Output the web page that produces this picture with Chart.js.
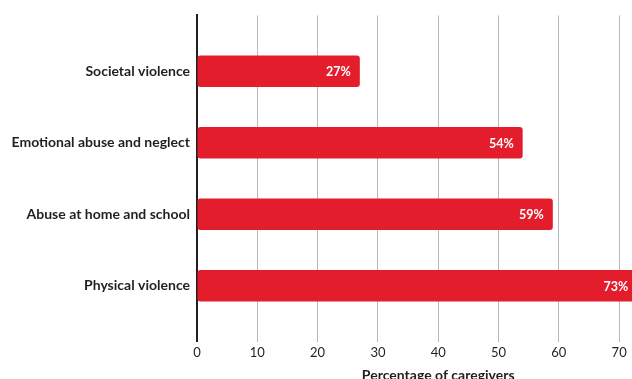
<!DOCTYPE html>
<html>
<head>
<meta charset="utf-8">
<script src="https://cdn.jsdelivr.net/npm/chart.js@4.4.1/dist/chart.umd.min.js"></script>
<style>
  html, body { margin: 0; padding: 0; background: #fff; }
  body { width: 632px; height: 379px; overflow: hidden; }
  #wrap { width: 690px; height: 386px; }
</style>
</head>
<body>
<div id="wrap"><canvas id="chart"></canvas></div>
<script>
// Forms of violence reported by caregivers
const categories = ['Societal violence', 'Emotional abuse and neglect', 'Abuse at home and school', 'Physical violence'];
const percentages = [27, 54, 59, 73];
const xAxisTitle = 'Percentage of caregivers';

const BAR_RED = '#e41d2c';
const INK = '#231f20';
const FONT = 'Lato, "Open Sans", sans-serif';

// Value labels written inside the end of each bar
const barValueLabels = {
  id: 'barValueLabels',
  afterDatasetsDraw(chart) {
    const ctx = chart.ctx;
    const meta = chart.getDatasetMeta(0);
    ctx.save();
    ctx.fillStyle = '#ffffff';
    ctx.font = `bold 12.5px ${FONT}`;
    ctx.textAlign = 'right';
    ctx.textBaseline = 'middle';
    meta.data.forEach((bar, i) => {
      ctx.fillText(percentages[i] + '%', bar.x - 9, bar.y + 1);
    });
    ctx.restore();
  }
};

const data = {
  datasets: [{
    data: percentages.map((v, i) => ({ x: v, y: i })),
    backgroundColor: BAR_RED,
    borderWidth: 0,
    borderRadius: 3,
    borderSkipped: false,
    categoryPercentage: 1,
    barPercentage: 0.44
  }]
};

const config = {
  type: 'bar',
  data,
  options: {
    indexAxis: 'y',
    responsive: true,
    maintainAspectRatio: false,
    animation: false,
    layout: {
      padding: { top: 15, right: 8.5, bottom: 0, left: 0 }
    },
    plugins: {
      legend: { display: false },
      tooltip: { enabled: false }
    },
    scales: {
      x: {
        type: 'linear',
        min: 0,
        max: 80,
        ticks: {
          stepSize: 10,
          padding: 3,
          color: INK,
          font: { family: FONT, size: 13 }
        },
        grid: {
          color: '#b8b8b8',
          lineWidth: 1,
          drawTicks: false
        },
        border: { display: false },
        title: {
          display: true,
          text: xAxisTitle,
          color: INK,
          font: { family: FONT, size: 14, weight: 'bold' },
          padding: { top: 4, bottom: 2 }
        }
      },
      y: {
        type: 'linear',
        min: -0.78,
        max: 3.78,
        reverse: true,
        offset: false,
        afterBuildTicks: (scale) => {
          scale.ticks = categories.map((c, i) => ({ value: i }));
        },
        afterFit: (scale) => {
          scale.width = 197;
        },
        ticks: {
          padding: 7,
          color: INK,
          font: { family: FONT, size: 14, weight: 'bold' },
          callback: (v) => categories[v]
        },
        grid: { display: false, drawTicks: false, offset: false },
        border: { display: true, color: INK, width: 2 }
      }
    }
  },
  plugins: [barValueLabels]
};

new Chart(document.getElementById('chart'), config);
</script>
</body>
</html>
